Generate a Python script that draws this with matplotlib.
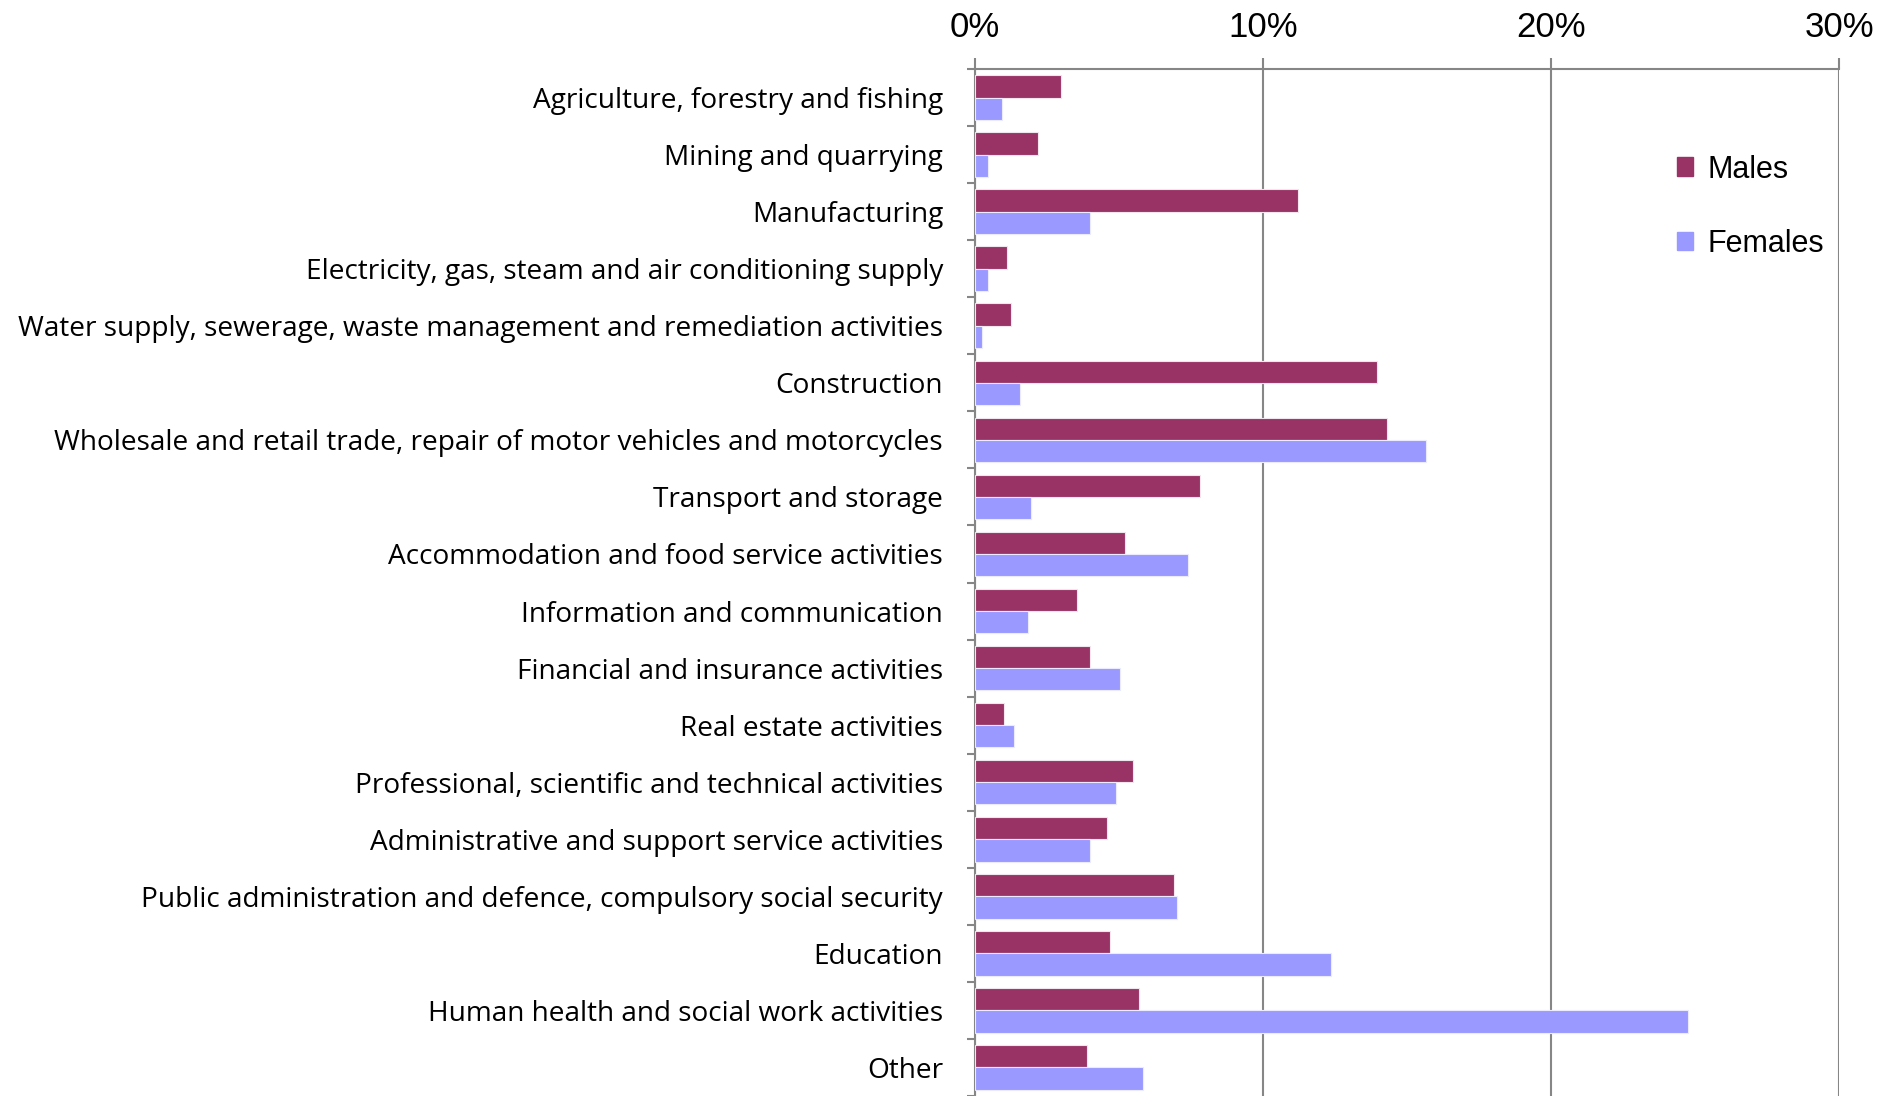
import matplotlib
matplotlib.use("Agg")
import matplotlib.pyplot as plt
import numpy as np
from matplotlib.patches import Patch

categories = [
    "Agriculture, forestry and fishing",
    "Mining and quarrying",
    "Manufacturing",
    "Electricity, gas, steam and air conditioning supply",
    "Water supply, sewerage, waste management and remediation activities",
    "Construction",
    "Wholesale and retail trade, repair of motor vehicles and motorcycles",
    "Transport and storage",
    "Accommodation and food service activities",
    "Information and communication",
    "Financial and insurance activities",
    "Real estate activities",
    "Professional, scientific and technical activities",
    "Administrative and support service activities",
    "Public administration and defence, compulsory social security",
    "Education",
    "Human health and social work activities",
    "Other",
]
males = [3.0, 2.2, 11.2, 1.1, 1.25, 13.95, 14.3, 7.8, 5.2, 3.55, 4.0, 1.0, 5.5, 4.6, 6.9, 4.7, 5.7, 3.9]
females = [0.95, 0.45, 4.0, 0.45, 0.25, 1.55, 15.65, 1.95, 7.4, 1.85, 5.05, 1.35, 4.9, 4.0, 7.0, 12.35, 24.75, 5.85]
xticks = [0, 10, 20, 30]

male_color = "#993366"
female_color = "#9999FF"
grid_color = "#868686"

fig = plt.figure(figsize=(19.0, 10.96), dpi=100)
ax = fig.add_axes([975 / 1900, 0.0, (1839 - 975) / 1900, 1 - 69 / 1096])

y = np.arange(len(categories))
h = 0.39
ax.barh(y - h / 2, males, height=h, color=male_color, edgecolor="#f0e6ee", linewidth=0.8, label="Males", zorder=3)
ax.barh(y + h / 2, females, height=h, color=female_color, edgecolor="#ebebff", linewidth=0.8, label="Females", zorder=3)

ax.set_xlim(0, 30)
ax.set_ylim(len(categories) - 0.5, -0.5)
ax.xaxis.tick_top()
ax.set_xticks(xticks)
ax.set_xticklabels([f"{t}%" for t in xticks], fontsize=25, family="Liberation Sans")
ax.tick_params(axis="x", length=8, width=1.5, color=grid_color, pad=10)
ax.grid(axis="x", color=grid_color, linewidth=1.5, zorder=0)
ax.set_axisbelow(True)

ax.set_yticks(y)
ax.set_yticklabels(categories, fontsize=20.2, family="Open Sans")
ax.set_yticks(np.arange(len(categories) + 1) - 0.5, minor=True)
ax.tick_params(axis="y", which="major", length=0, pad=23)
ax.tick_params(axis="y", which="minor", length=6, width=1.5, color=grid_color)

for side in ["right", "bottom"]:
    ax.spines[side].set_visible(False)
for side in ["top", "left"]:
    ax.spines[side].set_color(grid_color)
    ax.spines[side].set_linewidth(1.5)

handles = [Patch(color=male_color, label="Males"), Patch(color=female_color, label="Females")]
fig.legend(handles=handles, loc="upper left", bbox_to_anchor=(1649 / 1900, 1 - 127 / 1096),
           frameon=False, handlelength=0.55, handleheight=0.55, handletextpad=0.45,
           labelspacing=1.45, prop={"family": "Liberation Sans", "size": 22})

fig.savefig("out.png", dpi=100)
